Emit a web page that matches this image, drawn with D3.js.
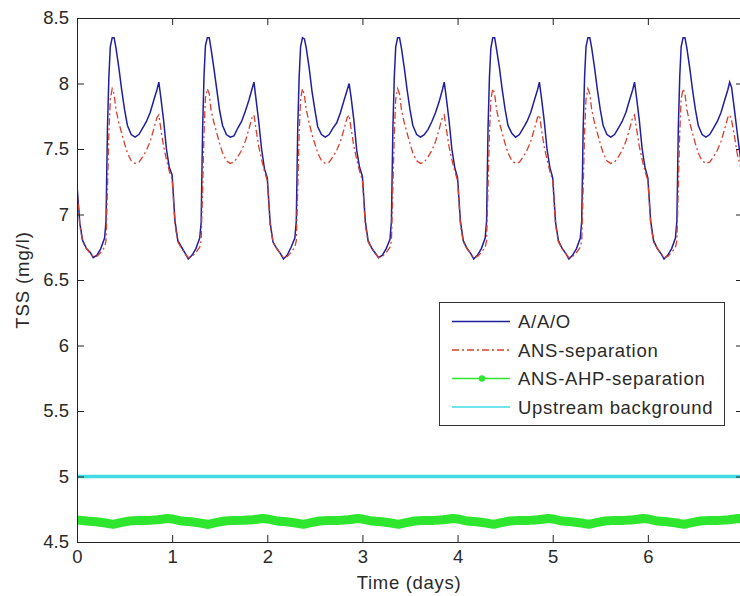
<!DOCTYPE html>
<html><head><meta charset="utf-8">
<script src="https://cdn.jsdelivr.net/npm/d3@7"></script>
<style>html,body{margin:0;padding:0;background:#fff;} svg{display:block;}</style>
</head><body>
<svg id="chart" width="740" height="596"></svg>
<script>
// Sample times (days) shared by the A/A/O and ANS-separation series
const timeDays = [
  0, 0.03, 0.06, 0.10, 0.14, 0.17, 0.21, 0.25, 0.29, 0.305, 0.32, 0.335, 0.35, 0.37, 0.39, 0.41, 0.44, 0.47, 0.50, 0.53, 0.57, 0.61, 0.65, 0.69, 0.73, 0.77, 0.81, 0.84, 0.86, 0.88, 0.91, 0.94, 0.97,
  1, 1.03, 1.06, 1.10, 1.14, 1.17, 1.21, 1.25, 1.29, 1.305, 1.32, 1.335, 1.35, 1.37, 1.39, 1.41, 1.44, 1.47, 1.50, 1.53, 1.57, 1.61, 1.65, 1.69, 1.73, 1.77, 1.81, 1.84, 1.86, 1.88, 1.91, 1.94, 1.97,
  2, 2.03, 2.06, 2.10, 2.14, 2.17, 2.21, 2.25, 2.29, 2.305, 2.32, 2.335, 2.35, 2.37, 2.39, 2.41, 2.44, 2.47, 2.50, 2.53, 2.57, 2.61, 2.65, 2.69, 2.73, 2.77, 2.81, 2.84, 2.86, 2.88, 2.91, 2.94, 2.97,
  3, 3.03, 3.06, 3.10, 3.14, 3.17, 3.21, 3.25, 3.29, 3.305, 3.32, 3.335, 3.35, 3.37, 3.39, 3.41, 3.44, 3.47, 3.50, 3.53, 3.57, 3.61, 3.65, 3.69, 3.73, 3.77, 3.81, 3.84, 3.86, 3.88, 3.91, 3.94, 3.97,
  4, 4.03, 4.06, 4.10, 4.14, 4.17, 4.21, 4.25, 4.29, 4.305, 4.32, 4.335, 4.35, 4.37, 4.39, 4.41, 4.44, 4.47, 4.50, 4.53, 4.57, 4.61, 4.65, 4.69, 4.73, 4.77, 4.81, 4.84, 4.86, 4.88, 4.91, 4.94, 4.97,
  5, 5.03, 5.06, 5.10, 5.14, 5.17, 5.21, 5.25, 5.29, 5.305, 5.32, 5.335, 5.35, 5.37, 5.39, 5.41, 5.44, 5.47, 5.50, 5.53, 5.57, 5.61, 5.65, 5.69, 5.73, 5.77, 5.81, 5.84, 5.86, 5.88, 5.91, 5.94, 5.97,
  6, 6.03, 6.06, 6.10, 6.14, 6.17, 6.21, 6.25, 6.29, 6.305, 6.32, 6.335, 6.35, 6.37, 6.39, 6.41, 6.44, 6.47, 6.50, 6.53, 6.57, 6.61, 6.65, 6.69, 6.73, 6.77, 6.81, 6.84, 6.86, 6.88, 6.91, 6.94, 6.97,
  7
];
const aaoTSS = [
  7.22, 6.93, 6.80, 6.74, 6.71, 6.67, 6.69, 6.74, 6.82, 6.95, 7.65, 8.05, 8.28, 8.35, 8.35, 8.27, 8.12, 7.95, 7.80, 7.68, 7.61, 7.59, 7.61, 7.66, 7.71, 7.78, 7.88, 7.95, 8.01, 7.90, 7.72, 7.50, 7.36,
  7.30, 6.95, 6.80, 6.75, 6.70, 6.66, 6.69, 6.74, 6.82, 6.94, 7.64, 8.06, 8.29, 8.35, 8.35, 8.26, 8.11, 7.95, 7.79, 7.68, 7.61, 7.59, 7.60, 7.66, 7.71, 7.79, 7.88, 7.96, 8.01, 7.89, 7.71, 7.50, 7.35,
  7.28, 6.94, 6.79, 6.74, 6.70, 6.66, 6.69, 6.75, 6.82, 6.95, 7.66, 8.05, 8.28, 8.35, 8.34, 8.27, 8.12, 7.94, 7.80, 7.67, 7.61, 7.59, 7.61, 7.66, 7.70, 7.78, 7.88, 7.95, 8.00, 7.90, 7.72, 7.49, 7.36,
  7.29, 6.95, 6.80, 6.74, 6.70, 6.67, 6.69, 6.74, 6.81, 6.95, 7.65, 8.05, 8.28, 8.35, 8.35, 8.27, 8.12, 7.95, 7.80, 7.68, 7.61, 7.59, 7.61, 7.65, 7.71, 7.78, 7.87, 7.95, 8.01, 7.90, 7.72, 7.50, 7.36,
  7.28, 6.95, 6.80, 6.74, 6.70, 6.66, 6.69, 6.74, 6.82, 6.95, 7.65, 8.05, 8.27, 8.35, 8.35, 8.26, 8.12, 7.95, 7.80, 7.68, 7.62, 7.59, 7.61, 7.66, 7.71, 7.78, 7.88, 7.95, 8.01, 7.90, 7.72, 7.50, 7.36,
  7.28, 6.94, 6.80, 6.74, 6.70, 6.66, 6.69, 6.74, 6.82, 6.95, 7.65, 8.05, 8.28, 8.35, 8.35, 8.27, 8.12, 7.95, 7.80, 7.68, 7.61, 7.59, 7.61, 7.66, 7.71, 7.78, 7.88, 7.95, 8.01, 7.90, 7.72, 7.50, 7.36,
  7.28, 6.95, 6.80, 6.74, 6.70, 6.66, 6.69, 6.74, 6.82, 6.95, 7.65, 8.05, 8.28, 8.35, 8.35, 8.27, 8.12, 7.95, 7.80, 7.68, 7.61, 7.59, 7.61, 7.66, 7.71, 7.78, 7.88, 7.95, 8.01, 7.97, 7.80, 7.62, 7.45,
  7.30
];
const ansSepTSS = [
  7.20, 6.91, 6.79, 6.74, 6.70, 6.68, 6.68, 6.71, 6.75, 6.80, 7.20, 7.62, 7.88, 7.96, 7.92, 7.80, 7.70, 7.62, 7.54, 7.47, 7.41, 7.39, 7.40, 7.44, 7.49, 7.56, 7.66, 7.74, 7.76, 7.66, 7.52, 7.42, 7.33,
  7.27, 6.92, 6.79, 6.74, 6.70, 6.67, 6.68, 6.71, 6.75, 6.80, 7.19, 7.62, 7.89, 7.96, 7.92, 7.79, 7.70, 7.62, 7.54, 7.47, 7.41, 7.39, 7.40, 7.44, 7.49, 7.56, 7.66, 7.74, 7.76, 7.66, 7.52, 7.42, 7.33,
  7.26, 6.92, 6.79, 6.74, 6.70, 6.67, 6.68, 6.71, 6.75, 6.80, 7.20, 7.62, 7.88, 7.96, 7.91, 7.80, 7.70, 7.61, 7.54, 7.47, 7.41, 7.39, 7.40, 7.44, 7.49, 7.56, 7.66, 7.74, 7.76, 7.66, 7.52, 7.42, 7.33,
  7.26, 6.92, 6.79, 6.74, 6.70, 6.67, 6.68, 6.71, 6.75, 6.80, 7.20, 7.62, 7.88, 7.96, 7.92, 7.80, 7.70, 7.62, 7.54, 7.47, 7.41, 7.39, 7.40, 7.44, 7.49, 7.56, 7.66, 7.74, 7.76, 7.66, 7.52, 7.42, 7.33,
  7.26, 6.92, 6.79, 6.74, 6.70, 6.67, 6.68, 6.71, 6.75, 6.80, 7.20, 7.62, 7.88, 7.96, 7.92, 7.80, 7.70, 7.62, 7.54, 7.47, 7.41, 7.39, 7.40, 7.44, 7.49, 7.56, 7.66, 7.74, 7.76, 7.66, 7.52, 7.42, 7.33,
  7.26, 6.92, 6.79, 6.74, 6.70, 6.67, 6.68, 6.71, 6.75, 6.80, 7.20, 7.62, 7.88, 7.96, 7.92, 7.80, 7.70, 7.62, 7.54, 7.47, 7.41, 7.39, 7.40, 7.44, 7.49, 7.56, 7.66, 7.74, 7.76, 7.66, 7.52, 7.42, 7.33,
  7.26, 6.92, 6.79, 6.74, 6.70, 6.67, 6.68, 6.71, 6.75, 6.80, 7.20, 7.62, 7.88, 7.96, 7.92, 7.80, 7.70, 7.62, 7.54, 7.47, 7.41, 7.39, 7.40, 7.44, 7.49, 7.56, 7.66, 7.74, 7.76, 7.72, 7.60, 7.46, 7.38,
  7.28
];
// ANS-AHP-separation series
const ahpTime = [
  0, 0.1, 0.2, 0.3, 0.38, 0.46, 0.55, 0.65, 0.75, 0.85, 0.95,
  1, 1.1, 1.2, 1.3, 1.38, 1.46, 1.55, 1.65, 1.75, 1.85, 1.95,
  2, 2.1, 2.2, 2.3, 2.38, 2.46, 2.55, 2.65, 2.75, 2.85, 2.95,
  3, 3.1, 3.2, 3.3, 3.38, 3.46, 3.55, 3.65, 3.75, 3.85, 3.95,
  4, 4.1, 4.2, 4.3, 4.38, 4.46, 4.55, 4.65, 4.75, 4.85, 4.95,
  5, 5.1, 5.2, 5.3, 5.38, 5.46, 5.55, 5.65, 5.75, 5.85, 5.95,
  6, 6.1, 6.2, 6.3, 6.38, 6.46, 6.55, 6.65, 6.75, 6.85, 6.95,
  7
];
const ahpTSS = [
  4.668, 4.660, 4.655, 4.645, 4.635, 4.648, 4.660, 4.665, 4.665, 4.670, 4.680,
  4.676, 4.660, 4.654, 4.644, 4.634, 4.648, 4.660, 4.665, 4.666, 4.670, 4.680,
  4.676, 4.661, 4.655, 4.645, 4.635, 4.648, 4.660, 4.665, 4.665, 4.670, 4.679,
  4.675, 4.660, 4.655, 4.645, 4.635, 4.648, 4.660, 4.665, 4.665, 4.670, 4.680,
  4.676, 4.660, 4.655, 4.645, 4.635, 4.648, 4.660, 4.665, 4.665, 4.670, 4.680,
  4.676, 4.660, 4.655, 4.645, 4.635, 4.648, 4.660, 4.665, 4.665, 4.670, 4.680,
  4.676, 4.660, 4.655, 4.645, 4.635, 4.648, 4.660, 4.665, 4.665, 4.670, 4.680,
  4.676
];
const upstreamTSS = 5.0;
const xTicks = [0, 1, 2, 3, 4, 5, 6];
const yTicks = [4.5, 5, 5.5, 6, 6.5, 7, 7.5, 8, 8.5];
const yTickLabels = ["4.5", "5", "5.5", "6", "6.5", "7", "7.5", "8", "8.5"];
const seriesNames = ["A/A/O", "ANS-separation", "ANS-AHP-separation", "Upstream background"];
const xLabel = "Time (days)";
const yLabel = "TSS (mg/l)";

const colors = {aao: "#1f1fa0", ans: "#d8402c", ahp: "#2ee62e", up: "#40dbe4"};
const FONT = "'Liberation Sans', Arial, sans-serif";
const TXT = "#2a2a2a";

const svg = d3.select("#chart");
const x = d3.scaleLinear().domain([0, 7]).range([77, 743]);
const y = d3.scaleLinear().domain([4.5, 8.5]).range([542, 18]);

svg.append("defs").append("clipPath").attr("id", "plotclip")
  .append("rect").attr("x", 77).attr("y", 18).attr("width", 666).attr("height", 524);

const plot = svg.append("g").attr("clip-path", "url(#plotclip)");

const line = d3.line().x(d => x(d[0])).y(d => y(d[1]));

// Upstream background
plot.append("path")
  .datum(x.domain().map(t => [t, upstreamTSS]))
  .attr("d", line).attr("fill", "none")
  .attr("stroke", colors.up).attr("stroke-width", 3.5);

// ANS-AHP-separation (dense dot markers -> thick line)
const ahpData = ahpTime.map((t, i) => [t, ahpTSS[i]]);
plot.append("path").datum(ahpData).attr("d", line).attr("fill", "none")
  .attr("stroke", colors.ahp).attr("stroke-width", 9)
  .attr("stroke-linejoin", "round").attr("stroke-linecap", "round");

// A/A/O
plot.append("path").datum(timeDays.map((t, i) => [t, aaoTSS[i]]))
  .attr("d", line).attr("fill", "none")
  .attr("stroke", colors.aao).attr("stroke-width", 1.5);

// ANS-separation (dash-dot)
plot.append("path").datum(timeDays.map((t, i) => [t, ansSepTSS[i]]))
  .attr("d", line).attr("fill", "none")
  .attr("stroke", colors.ans).attr("stroke-width", 1.3)
  .attr("stroke-dasharray", "7,3,2,3");

// Axes
function styleAxis(g, showText) {
  g.select(".domain").attr("stroke", "#222");
  g.selectAll(".tick line").attr("stroke", "#222");
  g.selectAll(".tick text").attr("fill", TXT).attr("font-family", FONT)
    .attr("font-size", 18.5).style("display", showText ? null : "none");
}
svg.append("g").attr("transform", "translate(0,542)")
  .call(d3.axisBottom(x).tickValues(xTicks).tickFormat(d => String(d))
    .tickSizeInner(-7).tickSizeOuter(0).tickPadding(8))
  .call(g => styleAxis(g, true));
svg.append("g").attr("transform", "translate(0,18)")
  .call(d3.axisTop(x).tickValues(xTicks).tickSizeInner(-7).tickSizeOuter(0))
  .call(g => styleAxis(g, false));
svg.append("g").attr("transform", "translate(77,0)")
  .call(d3.axisLeft(y).tickValues(yTicks).tickFormat((d, i) => yTickLabels[i])
    .tickSizeInner(-7).tickSizeOuter(0).tickPadding(8))
  .call(g => styleAxis(g, true));
svg.append("g").attr("transform", "translate(743,0)")
  .call(d3.axisRight(y).tickValues(yTicks).tickSizeInner(-7).tickSizeOuter(0))
  .call(g => styleAxis(g, false));

// Axis labels
svg.append("text").attr("x", 409).attr("y", 589).attr("text-anchor", "middle")
  .attr("font-family", FONT).attr("font-size", 18.5).attr("letter-spacing", 0.7)
  .attr("fill", TXT).text(xLabel);
svg.append("text").attr("transform", "translate(29,280) rotate(-90)")
  .attr("text-anchor", "middle").attr("font-family", FONT).attr("font-size", 18.5)
  .attr("letter-spacing", 0.9).attr("fill", TXT).text(yLabel);

// Legend
const lg = svg.append("g");
lg.append("rect").attr("x", 439.5).attr("y", 302.5).attr("width", 285).attr("height", 123)
  .attr("fill", "#fff").attr("stroke", "#333").attr("stroke-width", 1);
const legendRows = [
  {name: seriesNames[0], color: colors.aao, w: 1.5, dash: null, dot: false},
  {name: seriesNames[1], color: colors.ans, w: 1.3, dash: "7,3,2,3", dot: false},
  {name: seriesNames[2], color: colors.ahp, w: 1.5, dash: null, dot: true},
  {name: seriesNames[3], color: colors.up, w: 1.5, dash: null, dot: false}
];
const rowY = d3.scalePoint().domain(d3.range(legendRows.length)).range([321.5, 407]);
legendRows.forEach((r, i) => {
  const yy = rowY(i);
  lg.append("line").attr("x1", 452).attr("x2", 510).attr("y1", yy).attr("y2", yy)
    .attr("stroke", r.color).attr("stroke-width", r.w)
    .attr("stroke-dasharray", r.dash);
  if (r.dot) lg.append("circle").attr("cx", 482).attr("cy", yy).attr("r", 3.2).attr("fill", r.color);
  lg.append("text").attr("x", 518).attr("y", yy + 6.5)
    .attr("font-family", FONT).attr("font-size", 18.5).attr("letter-spacing", 0.7)
    .attr("fill", TXT).text(r.name);
});
</script>
</body></html>
